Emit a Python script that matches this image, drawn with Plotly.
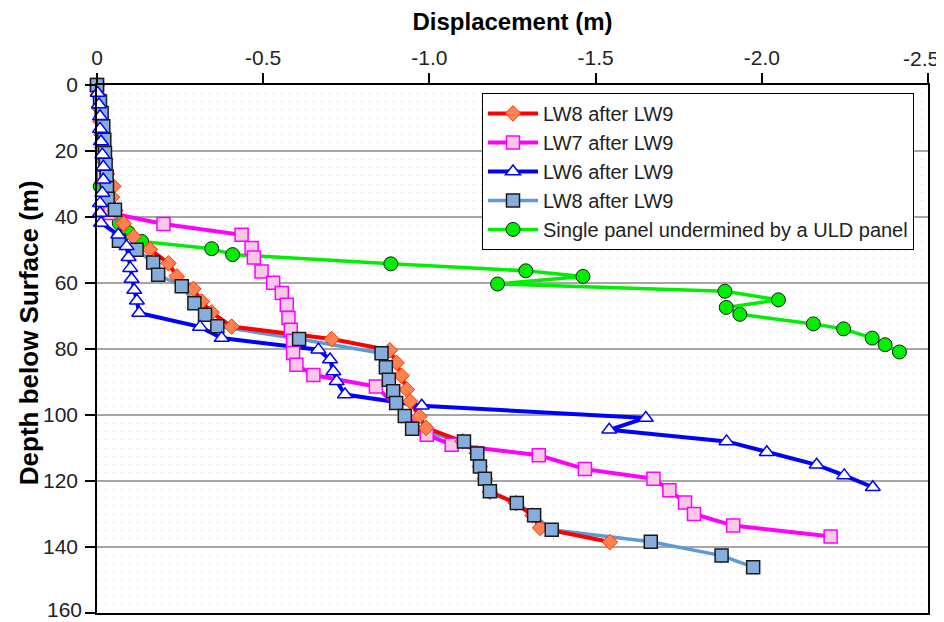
import plotly.graph_objects as go

# ---------------- data ----------------
# LW8 after LW9 (red line, orange diamonds)
lw8a_depth = [0, 3, 7, 11, 15, 19, 23, 27, 30.7, 34, 38, 42, 46, 49.8, 54, 58, 61.8,
              65.6, 68.9, 73.2, 77, 80.4, 84.2, 88.1, 92.3, 95.9, 100.4, 103.9, 108,
              111.5, 115.6, 119.3, 123.3, 126.7, 130.4, 134.2, 138.5]
lw8a_disp = [0, -0.003, -0.006, -0.01, -0.013, -0.016, -0.02, -0.03, -0.049, -0.045,
             -0.055, -0.08, -0.11, -0.159, -0.215, -0.24, -0.29, -0.315, -0.345, -0.405,
             -0.706, -0.881, -0.901, -0.916, -0.932, -0.942, -0.97, -0.99, -1.10,
             -1.142, -1.152, -1.167, -1.182, -1.26, -1.31, -1.333, -1.543]

# LW7 after LW9 (magenta line, pink squares)
lw7_depth = [0, 28, 38.8, 42.1, 45.4, 49.4, 52.3, 56.5, 59.9, 63, 66.6, 70.6, 74.2, 77.5,
             81.2, 84.8, 87.9, 91.4, 106, 109, 112.2, 116.4, 119.3, 122.8, 126.5, 130,
             133.5, 136.8]
lw7_disp = [0, -0.02, -0.04, -0.2, -0.435, -0.465, -0.472, -0.495, -0.53, -0.556, -0.571,
            -0.576, -0.583, -0.59, -0.59, -0.6, -0.651, -0.839, -0.992, -1.067, -1.329,
            -1.468, -1.674, -1.722, -1.769, -1.796, -1.914, -2.207]

# LW6 after LW9 (blue line, open triangles)
lw6_depth = [2.4, 5.9, 9.5, 13.3, 17.1, 21.1, 24.8, 28.7, 32.7, 35.8, 38.8, 41.8, 45.4,
             48.9, 52.2, 55.5, 58.8, 62.1, 65.4, 69.1, 73.3, 76.7, 80.2, 83.2, 86.8,
             89.8, 93.8, 97.2, 100.9, 104.5, 108, 111.3, 115.1, 118.3, 121.9]
lw6_disp = [-0.002, -0.006, -0.009, -0.009, -0.012, -0.016, -0.019, -0.019, -0.016,
            -0.009, -0.009, -0.012, -0.064, -0.089, -0.095, -0.1, -0.104, -0.112, -0.12,
            -0.127, -0.31, -0.375, -0.666, -0.701, -0.711, -0.721, -0.746, -0.977,
            -1.651, -1.541, -1.894, -2.015, -2.165, -2.248, -2.334]

# LW8 after LW9 (light blue line, steel-blue squares)
lw8b_depth = [0, 5, 8.5, 12.5, 16.6, 20.6, 24.2, 27.7, 31.2, 34.5, 37.8, 47.2, 49.9,
              53.8, 57.5, 61, 66.1, 69.6, 73.1, 77, 81.3, 85.5, 89.3, 92.8, 96.4, 100.3,
              104.2, 108, 111.7, 115.6, 119.3, 123.1, 126.7, 130.4, 134.8, 138.4, 142.6,
              146.1]
lw8b_disp = [0, -0.009, -0.014, -0.019, -0.022, -0.024, -0.026, -0.029, -0.03, -0.032,
             -0.054, -0.066, -0.119, -0.169, -0.184, -0.255, -0.293, -0.325, -0.362,
             -0.608, -0.856, -0.869, -0.878, -0.891, -0.9, -0.926, -0.948, -1.104,
             -1.144, -1.152, -1.167, -1.182, -1.263, -1.315, -1.368, -1.666, -1.879,
             -1.974]

# Single panel undermined by a ULD panel (green line, green circles)
uld_depth = [0, 30.7, 35.3, 41.8, 44.7, 47.4, 49.6, 51.4, 54.2, 56.3, 58.0, 60.3, 62.5,
             65.1, 67.4, 69.5, 72.4, 73.9, 76.7, 78.7, 80.9]
uld_disp = [0, -0.01, -0.033, -0.067, -0.094, -0.134, -0.345, -0.408, -0.884, -1.29,
            -1.462, -1.205, -1.889, -2.05, -1.893, -1.934, -2.155, -2.246, -2.332,
            -2.371, -2.414]

x_ticks = [0, -0.5, -1.0, -1.5, -2.0, -2.5]
x_tick_labels = ["0", "-0.5", "-1.0", "-1.5", "-2.0", "-2.5"]
y_ticks = [0, 20, 40, 60, 80, 100, 120, 140, 160]
y_tick_labels = ["0", "20", "40", "60", "80", "100", "120", "140", "160"]

# ---------------- styles ----------------
series = {
    "red": dict(name="LW8 after LW9", x=lw8a_disp, y=lw8a_depth, line=dict(color="#FF0000", width=4),
                marker=dict(symbol="diamond", size=12, color="#FF8050", line=dict(color="#FF3300", width=1))),
    "mag": dict(name="LW7 after LW9", x=lw7_disp, y=lw7_depth, line=dict(color="#FF00FF", width=4),
                marker=dict(symbol="square", size=13, color="#F8C8E4", line=dict(color="#FF00FF", width=1.5))),
    "blue": dict(name="LW6 after LW9", x=lw6_disp, y=lw6_depth, line=dict(color="#0000FF", width=4),
                 marker=dict(symbol="triangle-up", size=13, color="#FFFFFF", line=dict(color="#0000FF", width=1.5))),
    "lblue": dict(name="LW8 after LW9", x=lw8b_disp, y=lw8b_depth, line=dict(color="#5B9BD5", width=3.5),
                  marker=dict(symbol="square", size=13, color="#86AEDD", line=dict(color="#1A1A1A", width=1.5))),
    "green": dict(name="Single panel undermined by a ULD panel", x=uld_disp, y=uld_depth,
                  line=dict(color="#00EE00", width=3.5),
                  marker=dict(symbol="circle", size=14, color="#00EE00", line=dict(color="#1A1A1A", width=1))),
}

fig = go.Figure()

# lines first (Excel-like: all lines beneath all markers)
for key in ["green", "lblue", "red", "blue", "mag"]:
    s = series[key]
    fig.add_trace(go.Scatter(x=s["x"], y=s["y"], mode="lines", line=s["line"],
                             showlegend=False, hoverinfo="skip", cliponaxis=False))
# markers
for key in ["green", "mag", "red", "lblue", "blue"]:
    s = series[key]
    fig.add_trace(go.Scatter(x=s["x"], y=s["y"], mode="markers", marker=s["marker"],
                             name=s["name"], showlegend=False, cliponaxis=False))
# legend entries
for key in ["red", "mag", "blue", "lblue", "green"]:
    s = series[key]
    fig.add_trace(go.Scatter(x=[None], y=[None], mode="lines+markers", line=s["line"],
                             marker=s["marker"], name=s["name"], showlegend=True))

FONT = "Liberation Sans, Arial, sans-serif"
tick_font = dict(family=FONT, size=21, color="#222222")

# the outermost tick labels would be cut by the page edge: draw them as
# annotations nudged inward, and leave their axis tick text empty
x_text = x_tick_labels[:-1] + [""]
y_text = y_tick_labels[:-1] + [""]
edge_labels = [
    dict(text=x_tick_labels[-1], xref="x", x=x_ticks[-1], yref="paper", y=1,
         xanchor="center", yanchor="bottom", xshift=-7, yshift=13,
         showarrow=False, font=tick_font),
    dict(text=y_tick_labels[-1], xref="paper", x=0, yref="y", y=y_ticks[-1],
         xanchor="right", yanchor="middle", xshift=-13, yshift=4,
         showarrow=False, font=tick_font),
]

# The page body has an 8px margin, so the figure is 8px smaller on each side.
fig.update_layout(
    width=936, height=614,
    margin=dict(l=89, r=16, t=77, b=9),
    paper_bgcolor="#FFFFFF",
    plot_bgcolor="#FFFFFF",
    font=dict(family=FONT),
    xaxis=dict(
        range=[0, -2.5], side="top", tickvals=x_ticks, ticktext=x_text,
        ticks="outside", ticklen=10, tickwidth=1.5, tickcolor="#000000",
        showline=True, linecolor="#000000", linewidth=1.5, mirror=True,
        showgrid=False, zeroline=False, tickfont=tick_font, automargin=False,
        title=dict(text="<b>Displacement (m)</b>",
                   font=dict(family=FONT, size=24, color="#000000"), standoff=8),
    ),
    yaxis=dict(
        range=[160, 0], tickvals=y_ticks, ticktext=y_text,
        ticks="outside", ticklen=10, tickwidth=1.5, tickcolor="#000000",
        showline=True, linecolor="#000000", linewidth=1.5, mirror=True,
        showgrid=True, gridcolor="#A6A6A6", gridwidth=1.5, zeroline=False,
        tickfont=tick_font, automargin=False, ticklabelstandoff=3,
        minor=dict(dtick=2.5, showgrid=True, gridcolor="#F2AFAF", griddash="1px,7px",
                   gridwidth=1, ticks=""),
    ),
    annotations=[dict(
        text="<b>Depth below Surface (m)</b>", textangle=-90,
        xref="paper", yref="paper", x=-0.0818, y=0.530,
        xanchor="center", yanchor="middle", showarrow=False,
        font=dict(family=FONT, size=26, color="#000000"),
    )] + edge_labels,
    legend=dict(
        x=0.4633, y=0.985, xanchor="left", yanchor="top",
        bgcolor="#FFFFFF", bordercolor="#000000", borderwidth=1,
        font=dict(family=FONT, size=20, color="#222222"),
        itemwidth=50, traceorder="normal",
    ),
)

fig.write_html("out.html")
